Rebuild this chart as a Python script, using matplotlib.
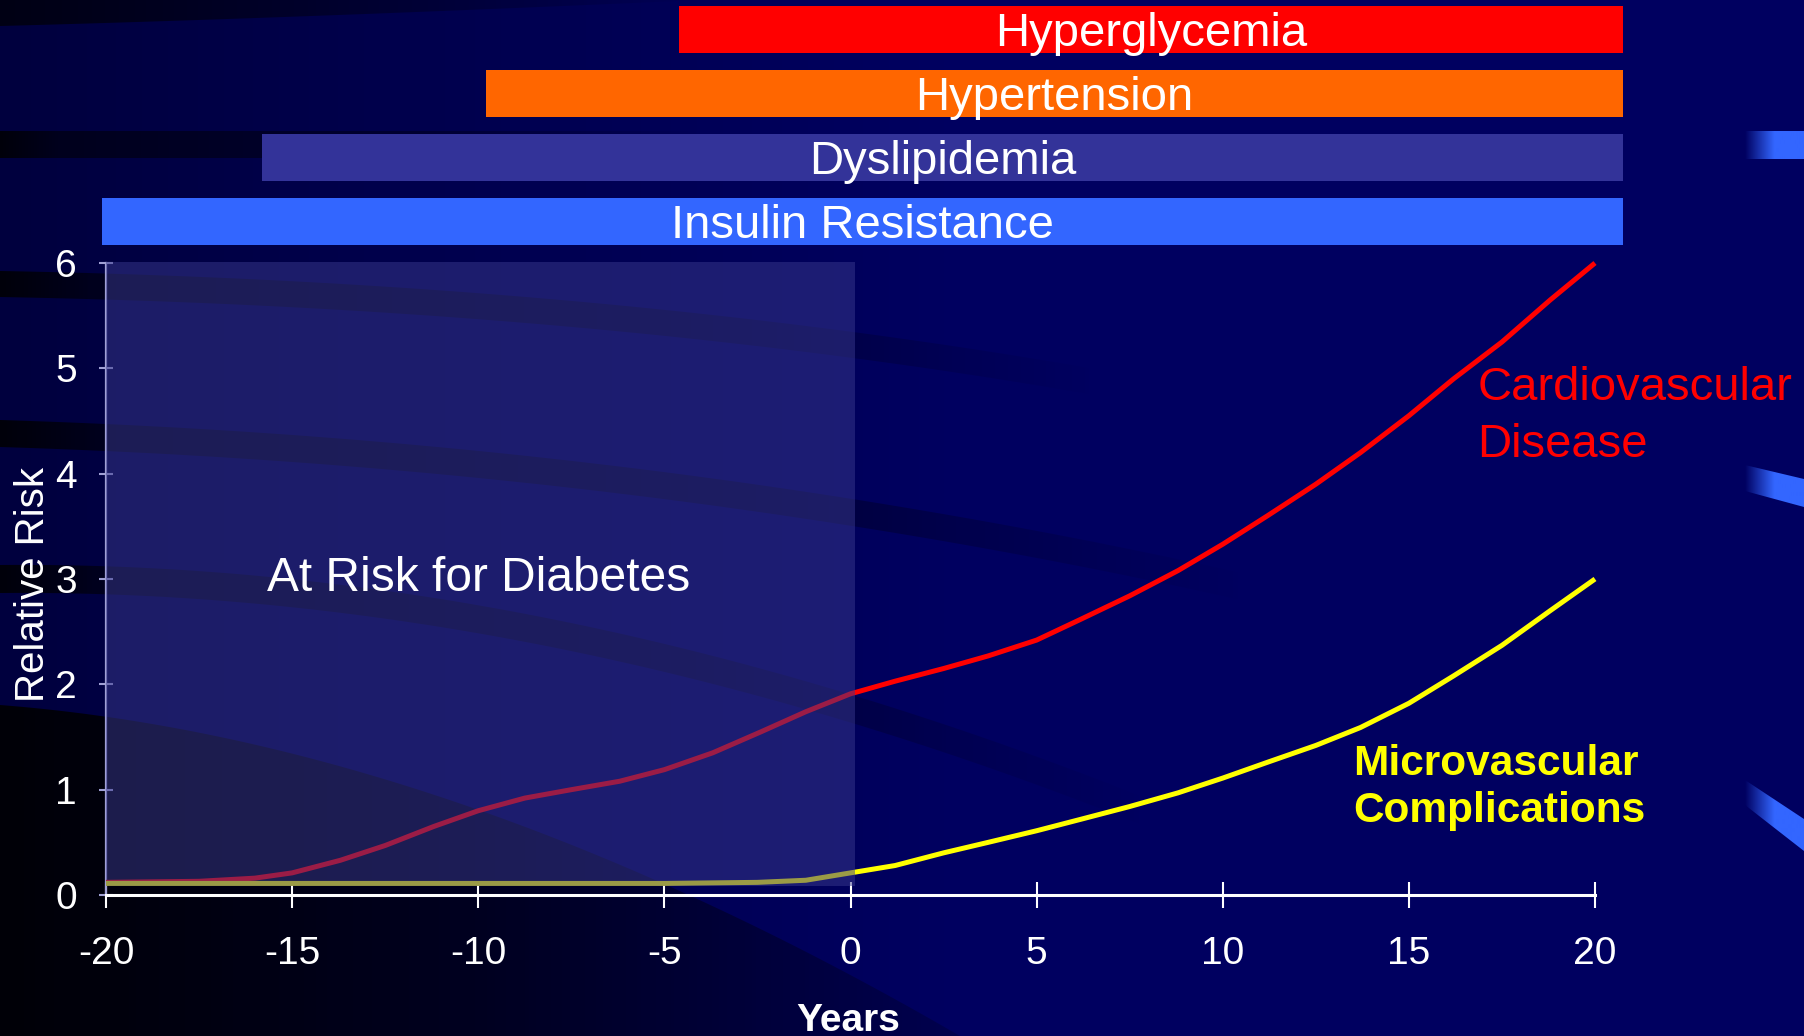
import numpy as np
import matplotlib.pyplot as plt
from matplotlib.patches import Polygon
from matplotlib.colors import LinearSegmentedColormap

plt.rcParams['font.family'] = ['Liberation Sans', 'DejaVu Sans']
plt.rcParams['axes.unicode_minus'] = False

# relative risk curves
years_cvd = [-20, -17.5, -16, -15, -13.7, -12.5, -11.2, -10, -8.75, -7.5, -6.2, -5,
             -3.7, -2.4, -1.2, 0, 1.2, 2.5, 3.7, 5, 6.2, 7.5, 8.8, 10, 11.2, 12.5,
             13.7, 15, 16.2, 17.5, 18.8, 20]
risk_cvd = [0.12, 0.13, 0.16, 0.21, 0.33, 0.47, 0.65, 0.80, 0.92, 1.00, 1.08, 1.19,
            1.35, 1.55, 1.74, 1.91, 2.03, 2.15, 2.27, 2.42, 2.62, 2.84, 3.08, 3.33, 3.60, 3.90,
            4.20, 4.55, 4.90, 5.25, 5.65, 6.00]
years_micro = [-20, -5, -2.5, -1.2, 0, 1.2, 2.5, 3.7, 5, 6.2, 7.5, 8.8, 10, 11.2,
               12.5, 13.7, 15, 16.2, 17.5, 18.8, 20]
risk_micro = [0.11, 0.11, 0.12, 0.14, 0.21, 0.28, 0.40, 0.50, 0.61, 0.72, 0.84, 0.97, 1.11, 1.26,
              1.42, 1.59, 1.82, 2.08, 2.37, 2.70, 3.00]

# conditions bars (bottom to top)
conditions = ['Insulin Resistance', 'Dyslipidemia', 'Hypertension', 'Hyperglycemia']
onset = [-20.1, -15.8, -9.8, -4.6]
end_year = 20.75
cond_colors = ['#3366ff', '#333399', '#ff6600', '#ff0000']

at_risk = (-20, 0.12)
xticks = [-20, -15, -10, -5, 0, 5, 10, 15, 20]
yticks = [0, 1, 2, 3, 4, 5, 6]

W, H = 1804, 1036
BG = '#000060'
fig = plt.figure(figsize=(W / 100, H / 100), dpi=100)
fig.patch.set_facecolor(BG)

# ---- slide background decoration (pixel coords, y down) ----
bg = fig.add_axes([0, 0, 1, 1])
bg.axis('off')


def bez(p0, c, p2, n=80):
    t = np.linspace(0, 1, n)[:, None]
    return (1 - t) ** 2 * np.array(p0) + 2 * t * (1 - t) * np.array(c) + t ** 2 * np.array(p2)


def grad_fill(verts, x0, x1, colors):
    p = Polygon(verts, closed=True, facecolor='none', edgecolor='none')
    bg.add_patch(p)
    cm = LinearSegmentedColormap.from_list('g', colors)
    im = bg.imshow(np.linspace(0, 1, 256)[None, :], extent=[x0, x1, H, 0],
                   cmap=cm, aspect='auto', interpolation='bilinear')
    im.set_clip_path(p)


dk = (0, 0, 0.04)
fade = [(0, dk + (1,)), (0.08, dk + (0.65,)), (0.6, dk + (0.4,)), (1, dk + (0,))]

grad_fill([(0, 0), (W, 0), (W, H), (0, H)], 0, 950, ['#00003e', BG])
# top band
top = bez((0, 26), (300, 18), (700, 0))
grad_fill(np.vstack([[(0, 0)], top, [(700, 0)]]), 0, 700, [(0, 0, 0.08, 1), (0, 0, 0.08, 0)])
# left band behind bars
grad_fill([(0, 131), (700, 131), (700, 158), (0, 158)], 0, 700, fade)
# curved bands across the plot
for p0, c, p2, th in [((0, 271), (600, 282), (1100, 370), 26),
                      ((0, 420), (650, 440), (1250, 575), 27),
                      ((0, 565), (550, 560), (1150, 800), 28)]:
    edge = bez(p0, c, p2)
    grad_fill(np.vstack([edge, (edge + [0, th])[::-1]]), 0, p2[0], fade)
# dark lower-left corner
edge = bez((0, 705), (450, 740), (960, 1036))
grad_fill(np.vstack([edge, [(0, 1036)]]), 0, 960,
          [(0, 0, 0.03, 1), (0, 0, 0.05, 0.7), (0, 0, 0.1, 0.25)])
# blue swooshes on the right edge
for verts in [[(1745, 131), (1804, 131), (1804, 159), (1745, 159)],
              [(1745, 465), (1804, 479), (1804, 507), (1745, 491)],
              [(1745, 780), (1804, 819), (1804, 851), (1745, 805)]]:
    grad_fill(verts, 1745, 1804, [BG, '#3366ff', '#3366ff'])
bg.set_xlim(0, W)
bg.set_ylim(H, 0)

# ---- chart ----
ax = fig.add_axes([106 / W, (H - 895) / H, (1595 - 106) / W, (895 - 263) / H])
ax.patch.set_alpha(0)
ax.set_xlim(-20, 20)
ax.set_ylim(0, 6)

ax.plot(years_cvd, risk_cvd, color='#ff0000', lw=3.6, zorder=3, clip_on=False,
        solid_capstyle='butt')
ax.plot(years_micro, risk_micro, color='#ffff00', lw=3.6, zorder=3, clip_on=False,
        solid_capstyle='butt')

# "at risk" period shading, drawn over the lines
ax.axvspan(at_risk[0], at_risk[1], ymin=0.09 / 6, ymax=1.002, facecolor='#38388c',
           alpha=0.5, edgecolor='none', zorder=4, clip_on=False)
ax.text(-10, 2.89, 'At Risk for Diabetes', color='white', fontsize=34.5,
        ha='center', va='baseline', zorder=5)

# condition bars above the plot
row_y = [6.395 + 0.607 * i for i in range(len(conditions))]
ax.barh(row_y, [end_year - s for s in onset], left=onset, height=0.45,
        color=cond_colors, edgecolor='none', clip_on=False, zorder=2)
for name, s, y in zip(conditions, onset, row_y):
    ax.text((s + end_year) / 2, y - 0.16, name, color='white', fontsize=34,
            ha='center', va='baseline', clip_on=False)

ax.text(16.84, 4.70, 'Cardiovascular', color='#ff0000', fontsize=34, va='baseline')
ax.text(16.84, 4.16, 'Disease', color='#ff0000', fontsize=34, va='baseline')
ax.text(13.5, 1.14, 'Microvascular', color='#ffff00', fontsize=30.5,
        fontweight='bold', va='baseline')
ax.text(13.5, 0.693, 'Complications', color='#ffff00', fontsize=30.5,
        fontweight='bold', va='baseline')

# axes styling
for s in ['top', 'right']:
    ax.spines[s].set_visible(False)
ax.spines['left'].set_color('#a0a0d4')
ax.spines['left'].set_linewidth(1.6)
ax.spines['bottom'].set_color('white')
ax.spines['bottom'].set_linewidth(2.2)
ax.set_xticks(xticks)
ax.set_yticks(yticks)
ax.tick_params(axis='x', direction='inout', length=19, width=1.5, colors='white',
               labelsize=28, pad=20)
ax.tick_params(axis='y', direction='inout', length=10, width=1.5, color='#a0a0d4',
               labelcolor='white', labelsize=28, pad=16)

ax.set_xlabel('Years', color='white', fontsize=28, fontweight='bold', va='baseline')
ax.xaxis.set_label_coords((848 - 106) / 1489, (895 - 1031) / 632)
ax.set_ylabel('Relative Risk', color='white', fontsize=29, va='baseline')
ax.yaxis.set_label_coords((44 - 106) / 1489, (895 - 584) / 632)

fig.savefig('out.png', dpi=100, facecolor=fig.get_facecolor())
